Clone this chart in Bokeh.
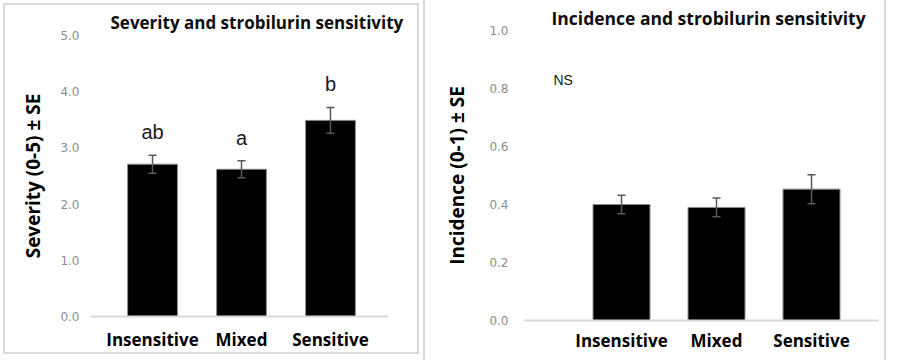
from bokeh.plotting import figure
from bokeh.layouts import row
from bokeh.models import (Range1d, FixedTicker, PrintfTickFormatter, Whisker,
                          ColumnDataSource, Title, Label, TeeHead)
from bokeh.core.properties import value
from bokeh.embed import file_html
from bokeh.resources import INLINE

# ---- data ----
categories = ["Insensitive", "Mixed", "Sensitive"]
severity_mean = [2.71, 2.62, 3.49]
severity_se = [0.16, 0.15, 0.23]
severity_letters = ["ab", "a", "b"]
incidence_mean = [0.40, 0.39, 0.453]
incidence_se = [0.032, 0.032, 0.05]
severity_ticks = [0, 1, 2, 3, 4, 5]
incidence_ticks = [0.0, 0.2, 0.4, 0.6, 0.8, 1.0]

BORDER = "#d9d9d9"
TICK_GRAY = "#8c8c8c"
BOLD_FONT = "Open Sans"


def make_panel(means, ses, ticks, ymax, title, ylabel, width, height,
               mb_left, mb_right, mb_top, mb_bottom, x_start, x_end,
               bar_width, title_offset, title_standoff, title_size,
               ytick_standoff, ylabel_standoff, xlabel_standoff, styles,
               margin):
    idx = list(range(len(categories)))
    src = ColumnDataSource(dict(
        x=idx, top=means,
        upper=[m + s for m, s in zip(means, ses)],
        lower=[m - s for m, s in zip(means, ses)],
    ))
    p = figure(width=width, height=height, output_backend="svg",
               toolbar_location=None, tools="",
               x_range=Range1d(x_start, x_end), y_range=Range1d(0, ymax),
               min_border_left=mb_left, min_border_right=mb_right,
               min_border_top=mb_top, min_border_bottom=mb_bottom,
               outline_line_color=None, background_fill_color="white",
               border_fill_color="white", styles=styles, margin=margin)
    p.grid.visible = False
    t = Title(text=title, align="left", offset=title_offset,
              standoff=title_standoff,
              text_font=BOLD_FONT, text_font_style="bold",
              text_font_size=title_size, text_color="#0d0d0d")
    p.add_layout(t, "above")

    p.vbar(x="x", top="top", width=bar_width, source=src,
           fill_color="black", line_color="#8c8c8c", line_width=1)
    w = Whisker(source=src, base="x", upper="upper", lower="lower",
                line_color="#595959", line_width=1.5, level="overlay",
                upper_head=TeeHead(size=8, line_color="#595959", line_width=1.5),
                lower_head=TeeHead(size=8, line_color="#595959", line_width=1.5))
    p.add_layout(w)

    # y axis
    p.yaxis.ticker = FixedTicker(ticks=ticks)
    p.yaxis.formatter = PrintfTickFormatter(format="%.1f")
    p.yaxis.axis_line_color = None
    p.yaxis.major_tick_line_color = None
    p.yaxis.minor_tick_line_color = None
    p.yaxis.major_tick_out = 0
    p.yaxis.major_tick_in = 0
    p.yaxis.minor_tick_out = 0
    p.yaxis.major_label_text_font = "DejaVu Sans"
    p.yaxis.major_label_text_font_size = "12px"
    p.yaxis.major_label_text_color = TICK_GRAY
    p.yaxis.major_label_standoff = ytick_standoff
    p.yaxis.axis_label = ylabel
    p.yaxis.axis_label_text_font = BOLD_FONT
    p.yaxis.axis_label_text_font_style = "bold"
    p.yaxis.axis_label_text_font_size = "19px"
    p.yaxis.axis_label_text_color = "black"
    p.yaxis.axis_label_standoff = ylabel_standoff

    # x axis
    p.xaxis.ticker = FixedTicker(ticks=idx)
    p.xaxis.major_label_overrides = {i: c for i, c in zip(idx, categories)}
    p.xaxis.axis_line_color = BORDER
    p.xaxis.axis_line_width = 2
    p.xaxis.major_tick_line_color = None
    p.xaxis.minor_tick_line_color = None
    p.xaxis.major_tick_out = 0
    p.xaxis.major_tick_in = 0
    p.xaxis.minor_tick_out = 0
    p.xaxis.major_label_text_font = BOLD_FONT
    p.xaxis.major_label_text_font_style = "bold"
    p.xaxis.major_label_text_font_size = "17px"
    p.xaxis.major_label_text_color = "black"
    p.xaxis.major_label_standoff = xlabel_standoff
    return p, src


p1, src1 = make_panel(
    severity_mean, severity_se, severity_ticks, 5.0,
    "Severity and strobilurin sensitivity", "Severity (0-5) ± SE",
    width=416, height=351, mb_left=85, mb_right=33, mb_top=30, mb_bottom=39,
    x_start=-0.697, x_end=2.652, bar_width=0.56, title_offset=20,
    title_standoff=4, title_size="17px", ytick_standoff=11,
    ylabel_standoff=11, xlabel_standoff=11,
    styles={"border": "2px solid " + BORDER}, margin=(3, 0, 0, 3))
src1.data["letter"] = severity_letters
p1.text(x="x", y="upper", text="letter", source=src1, text_align="center",
        text_baseline="bottom", y_offset=-12,
        text_font=value("Liberation Sans"), text_font_size="20px",
        text_color="#1a1a1a")

p2, src2 = make_panel(
    incidence_mean, incidence_se, incidence_ticks, 1.0,
    "Incidence and strobilurin sensitivity", "Incidence (0-1) ± SE",
    width=463, height=360, mb_left=99, mb_right=10, mb_top=29, mb_bottom=40,
    x_start=-1.021, x_end=2.705, bar_width=0.6, title_offset=27,
    title_standoff=1, title_size="17.5px", ytick_standoff=16,
    ylabel_standoff=16, xlabel_standoff=8,
    styles={"border-left": "2px solid " + BORDER,
            "border-right": "2px solid " + BORDER}, margin=(0, 0, 0, 4))
p2.add_layout(Label(x=0, y=0.83, x_offset=-68, text="NS",
                    text_align="left", text_baseline="middle",
                    text_font="Liberation Sans", text_font_size="14px",
                    text_color="#1a1a1a"))

layout = row(p1, p2, spacing=0)

open("out.html", "w").write(file_html(layout, INLINE))
